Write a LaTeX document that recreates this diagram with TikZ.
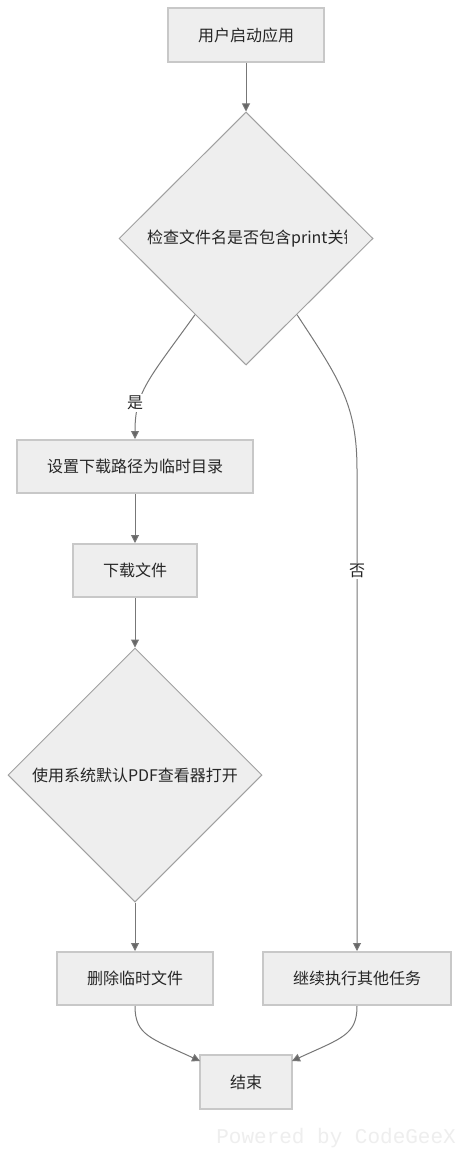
\documentclass[tikz,border=0pt]{standalone}
\usepackage{fontspec}
\setmainfont{Noto Sans CJK SC}
\newfontfamily\wmfont{Liberation Mono}
\usetikzlibrary{shapes.geometric,arrows.meta,calc}
\definecolor{boxfill}{HTML}{EEEEEE}
\definecolor{boxline}{HTML}{C8C8C8}
\definecolor{dialine}{HTML}{A0A0A0}
\definecolor{edgecol}{HTML}{777777}
\definecolor{tipcol}{HTML}{666666}
\definecolor{wmcol}{HTML}{EEEEEE}
\tikzset{
  stepbox/.style={draw=boxline, line width=2pt, fill=boxfill, inner sep=0pt, font=\fontsize{16}{19}\selectfont, text=black!85},
  decbox/.style={diamond, draw=dialine, line width=1pt, fill=boxfill, inner sep=0pt, aspect=1},
  arr/.style={draw=edgecol, line width=1pt, -{Triangle[length=8pt,width=8pt,fill=tipcol]}},
  lbl/.style={fill=white, inner sep=1.5pt, font=\fontsize{16}{19}\selectfont, text=black!85},
  dtext/.style={font=\fontsize{16}{19}\selectfont, text=black!85, inner sep=0pt}
}
\begin{document}
\begin{tikzpicture}[x=1pt,y=-1pt]
\useasboundingbox[fill=white] (0,0) rectangle (460,1158);

\node[stepbox, minimum width=156pt, minimum height=54pt] (a) at (246,35) {用户启动应用};
\node[decbox, minimum width=254pt, minimum height=253pt] (d1) at (246,238.5) {};
\begin{scope}
  \clip (119,200) rectangle (346,280);
  \node[dtext, anchor=west] (d1t) at (147,239) {检查文件名是否包含print关键字};
\end{scope}

\node[stepbox, minimum width=236pt, minimum height=53pt] (b) at (135,466.5) {设置下载路径为临时目录};
\node[stepbox, minimum width=124pt, minimum height=53pt] (c) at (135,570.5) {下载文件};
\node[decbox, minimum width=254pt, minimum height=254pt] (d2) at (135,775) {};
\node[dtext] (d2t) at (135,775) {使用系统默认PDF查看器打开};
\node[stepbox, minimum width=156pt, minimum height=53pt] (e) at (135,978.5) {删除临时文件};
\node[stepbox, minimum width=188pt, minimum height=53pt] (f) at (357,978.5) {继续执行其他任务};
\node[stepbox, minimum width=92pt, minimum height=54pt] (g) at (246,1082) {结束};

\node[font=\wmfont\fontsize{21}{24}\selectfont, text=wmcol, anchor=east, inner sep=0pt] (wm) at (456,1138) {Powered by CodeGeeX};

% edges
\draw[arr] (a.south) -- (d1.north);
\coordinate (d1l) at ($(d1.south)!0.4!(d1.west)$);
\coordinate (d1r) at ($(d1.south)!0.4!(d1.east)$);
\draw[arr] (d1l) .. controls (148,380) and (135,392) .. (b.north);
\node[lbl] (yes) at (135,403) {是};
\coordinate (fr) at (357,470);
\draw[arr] (d1r) .. controls (340,380) and (357,405) .. (fr) -- (f.north);
\node[lbl] (no) at (357,571) {否};
\draw[arr] (b.south) -- (c.north);
\draw[arr] (c.south) -- (d2.north);
\draw[arr] (d2.south) -- (e.north);
\coordinate (gl) at (200,1061);
\coordinate (gr) at (292,1061);
\draw[arr] (e.south) .. controls (135,1035) and (150,1038) .. (gl);
\draw[arr] (f.south) .. controls (357,1035) and (342,1038) .. (gr);
\end{tikzpicture}
\end{document}
